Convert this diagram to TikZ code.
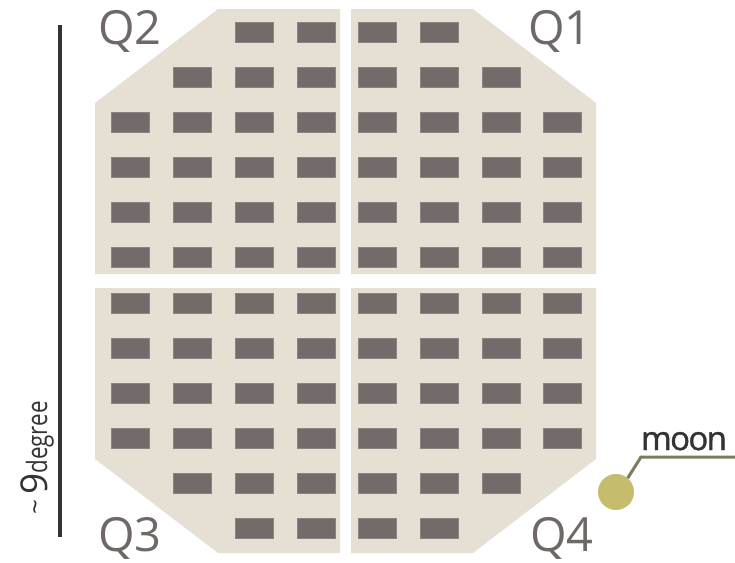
\documentclass[tikz,border=0pt]{standalone}
\usepackage{fontspec}
\setmainfont{Open Sans}
\newfontfamily\moonfont[FakeBold=1.2, LetterSpace=-5]{Open Sans}
\usepackage{xcolor}
\usepackage{tikz}
\usetikzlibrary{positioning}

\definecolor{quadfill}{HTML}{E6E0D4}
\definecolor{cellfill}{HTML}{736B6A}
\definecolor{cellline}{HTML}{8C8483}
\definecolor{labelgray}{HTML}{6E6867}
\definecolor{moonfill}{HTML}{C5BD6D}
\definecolor{leader}{HTML}{7C7B5E}
\definecolor{bargray}{HTML}{333333}

\begin{document}
\begin{tikzpicture}[
  x=1pt, y=-1pt,
  quad/.style={fill=quadfill},
  cell/.style={fill=cellfill, draw=cellline, line width=0.8pt},
  qlabel/.style={text=labelgray, font=\fontsize{47}{47}\selectfont, inner sep=0pt},
  moonball/.style={circle, fill=moonfill, minimum size=36pt, inner sep=0pt},
  lead/.style={draw=leader, line width=3pt}]
\useasboundingbox (0,0) rectangle (735,562);
% four quadrants of the octagon
\fill[quad] (95,103) -- (218,9) -- (340,9) -- (340,274) -- (95,274) -- cycle;
\fill[quad] (351,9) -- (473,9) -- (596,103) -- (596,274) -- (351,274) -- cycle;
\fill[quad] (95,288) -- (340,288) -- (340,553) -- (218,553) -- (95,459) -- cycle;
\fill[quad] (351,288) -- (596,288) -- (596,459) -- (473,553) -- (351,553) -- cycle;
% detector cells
\foreach \y in {112,157,202,247,293,338,383,428}
  \foreach \x in {111,173,235,297,358,420,482,543}
    \draw[cell] (\x,\y) rectangle ++(38,20);
\foreach \y in {67,473}
  \foreach \x in {173,235,297,358,420,482}
    \draw[cell] (\x,\y) rectangle ++(38,20);
\foreach \y in {22,518}
  \foreach \x in {235,297,358,420}
    \draw[cell] (\x,\y) rectangle ++(38,20);
% quadrant names
\node[qlabel] (q2) at (130,31) {Q2};
\node[qlabel] (q1) at (560,31) {Q1};
\node[qlabel] (q3) at (130,538) {Q3};
\node[qlabel] (q4) at (562,538) {Q4};
% angular size
\draw[bargray, line width=4pt] (60,25) -- (60,537);
\node[rotate=90, text=bargray, inner sep=0pt, anchor=base] (deg) at (47,458)
  {\raisebox{3pt}{\fontsize{26}{26}\selectfont\textasciitilde}\hspace{5pt}{\fontsize{37}{37}\selectfont 9}\scalebox{0.8}[1]{\fontsize{28}{28}\selectfont degree}};
% moon
\node[moonball] (moon) at (616,492) {};
\coordinate (bend) at (641,457);
\coordinate (lineend) at (735,457);
\draw[lead] (moon.50) -- (bend) -- (lineend);
\node[text=bargray, font=\moonfont\fontsize{33}{33}\selectfont, inner sep=0pt, anchor=base] (moonlbl) at (684,450) {moon};
\end{tikzpicture}
\end{document}
